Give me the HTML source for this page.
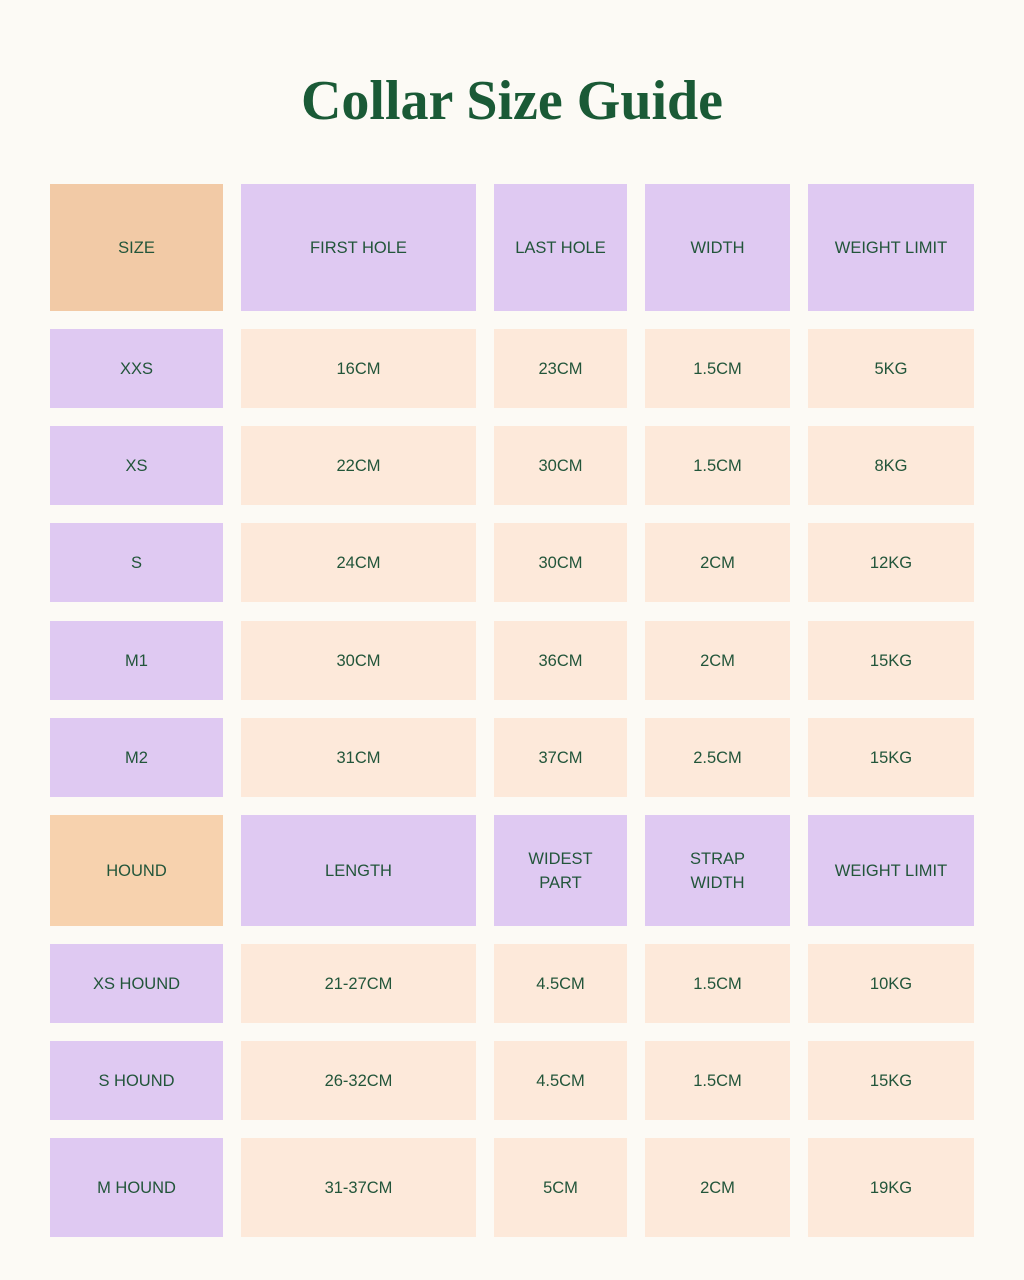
<!DOCTYPE html>
<html><head><meta charset="utf-8"><style>
body{margin:0;width:1024px;height:1280px;background:#fcfaf5;position:relative;overflow:hidden;font-family:"Liberation Sans",sans-serif;}
h1{position:absolute;top:66px;left:0;width:1024px;margin:0;text-align:center;font-family:"Liberation Serif",serif;font-weight:bold;font-size:56px;color:#1a5a36;line-height:70px;}
.c{position:absolute;display:flex;align-items:center;justify-content:center;text-align:center;color:#22553a;font-size:16.5px;line-height:24px;padding-top:1px;box-sizing:border-box;}
.o{background:#f2caa6}.p{background:#dfc9f2}.e{background:#fde9da}.o2{background:#f7d2ae}
</style></head><body>
<h1>Collar Size Guide</h1>
<div id="t"></div>
<script>
var X=[[50,173],[241,235],[494,133],[645,145],[808,166]];
var R=[[184,127,'o',['SIZE','FIRST HOLE','LAST HOLE','WIDTH','WEIGHT LIMIT'],1],
[329,79,'e',['XXS','16CM','23CM','1.5CM','5KG']],
[426,79,'e',['XS','22CM','30CM','1.5CM','8KG']],
[523,79,'e',['S','24CM','30CM','2CM','12KG']],
[621,79,'e',['M1','30CM','36CM','2CM','15KG']],
[718,79,'e',['M2','31CM','37CM','2.5CM','15KG']],
[815,111,'o2',['HOUND','LENGTH','WIDEST<br>PART','STRAP<br>WIDTH','WEIGHT LIMIT'],1],
[944,79,'e',['XS HOUND','21-27CM','4.5CM','1.5CM','10KG']],
[1041,79,'e',['S HOUND','26-32CM','4.5CM','1.5CM','15KG']],
[1138,99,'e',['M HOUND','31-37CM','5CM','2CM','19KG']]];
var h='';
R.forEach(function(r){for(var i=0;i<5;i++){var cls=r[4]?(i==0?r[2]:'p'):(i==0?'p':'e');
h+='<div class="c '+cls+'" style="left:'+X[i][0]+'px;width:'+X[i][1]+'px;top:'+r[0]+'px;height:'+r[1]+'px">'+r[3][i]+'</div>';}});
document.getElementById('t').innerHTML=h;
</script>
</body></html>
